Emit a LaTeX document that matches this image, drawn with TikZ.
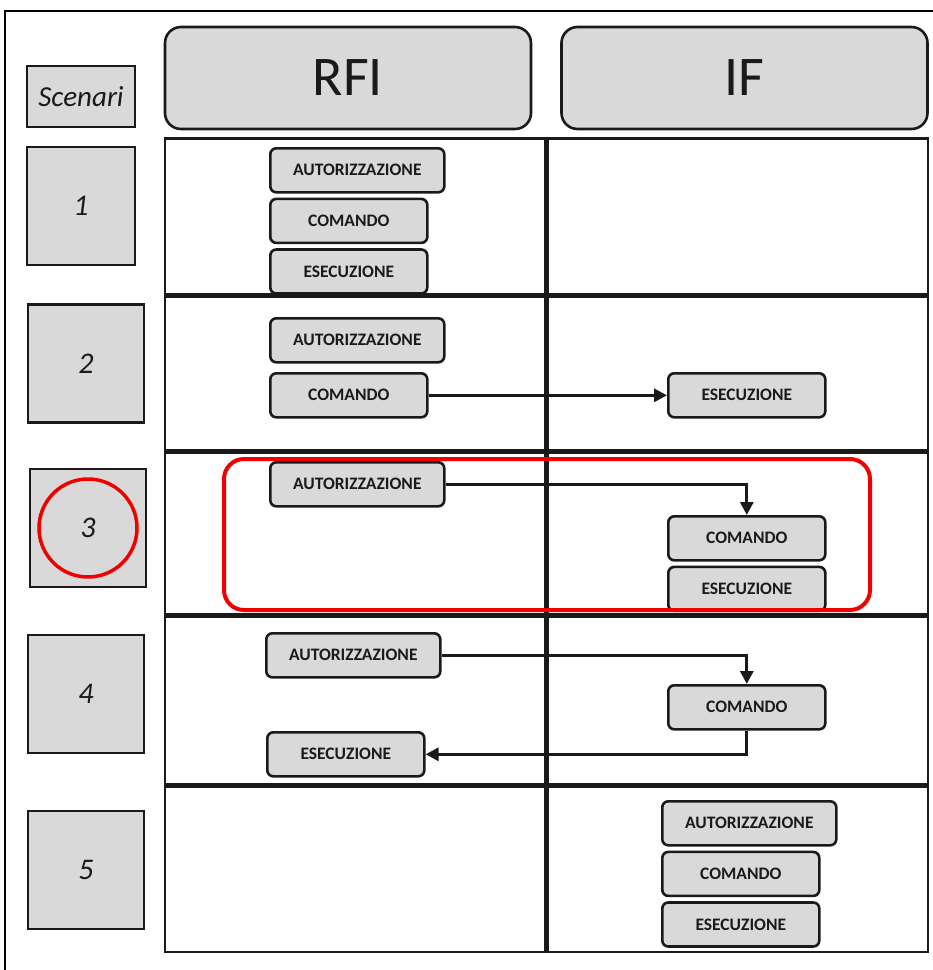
\documentclass[tikz,border=0pt]{standalone}
\usepackage{fontspec}
\setmainfont{Carlito}
\usepackage{tikz}
\usetikzlibrary{arrows.meta,positioning}
\definecolor{boxgray}{HTML}{D9D9D9}
\definecolor{ink}{HTML}{1A1A1A}
\definecolor{mark}{HTML}{F00000}
\tikzset{
  act/.style={draw=ink, line width=2.6pt, rounded corners=6pt, fill=boxgray,
              minimum height=44pt, inner sep=0pt, text=ink,
              font=\bfseries\fontsize{17.5}{17.5}\selectfont},
  wide/.style={act, minimum width=174pt},
  narrow/.style={act, minimum width=157pt},
  head/.style={draw=ink, line width=2.6pt, rounded corners=16pt, fill=boxgray,
               minimum width=366pt, minimum height=102pt, text=ink,
               font=\fontsize{56}{56}\selectfont},
  scen/.style={draw=ink, line width=2.6pt, fill=boxgray, text=ink,
               minimum width=116pt, minimum height=118pt,
               font=\itshape\fontsize{30}{30}\selectfont},
  flow/.style={-{Triangle[length=13pt,width=13pt]}, line width=3pt, draw=ink},
  sep/.style={line width=5pt, draw=ink}
}
\begin{document}
\begin{tikzpicture}[x=1pt,y=-1pt]
  \useasboundingbox (0,0) rectangle (933,970);
  % outer frame (cut at right and bottom)
  \draw[line width=1.2pt] (5,970) -- (5,11) -- (933,11);
  % headers
  \node[scen, minimum width=108pt, minimum height=61pt, font=\itshape\fontsize{29}{29}\selectfont] (scn) at (81,96.5) {Scenari};
  \node[head] (rfi) at (348,78) {RFI};
  \node[head] (if) at (744.5,78) {IF};
  % table grid
  \draw[line width=2pt, draw=ink] (165,138) rectangle (928,952);
  \draw[line width=3pt, draw=ink] (165,138) -- (928,138);
  \foreach \yy in {295,451,615,785}
    \draw[sep] (165,\yy) -- (928,\yy);
  \draw[sep] (546,138) -- (546,952);
  % scenario numbers
  \node[scen, minimum width=108pt] (s1) at (81,206) {1};
  \node[scen] (s2) at (86,363.5) {2};
  \node[scen] (s3) at (88,528) {3};
  \node[scen] (s4) at (86,694) {4};
  \node[scen] (s5) at (86,870) {5};
  % scenario 1
  \node[wide, anchor=north west] (a1) at (269,147) {AUTORIZZAZIONE};
  \node[narrow, below=4pt of a1.south west, anchor=north west] (c1) {COMANDO};
  \node[narrow, below=4pt of c1.south west, anchor=north west] (e1) {ESECUZIONE};
  % scenario 2
  \node[wide, anchor=north west] (a2) at (269,317) {AUTORIZZAZIONE};
  \node[narrow, anchor=north west] (c2) at (269,372) {COMANDO};
  \node[narrow, anchor=north west] (e2) at (667,372) {ESECUZIONE};
  \draw[flow] (c2.east) -- (e2.west);
  % scenario 3
  \node[wide, anchor=north west] (a3) at (269,461) {AUTORIZZAZIONE};
  \node[narrow, anchor=north west] (c3) at (667,515) {COMANDO};
  \node[narrow, below=4pt of c3.south west, anchor=north west] (e3) {ESECUZIONE};
  \draw[flow] (a3.east) -| (c3.north);
  % scenario 4
  \node[wide, anchor=north west] (a4) at (265,632) {AUTORIZZAZIONE};
  \node[narrow, anchor=north west] (c4) at (667,684) {COMANDO};
  \node[narrow, anchor=north west] (e4) at (266,731) {ESECUZIONE};
  \draw[flow] (a4.east) -| (c4.north);
  \draw[flow] (c4.south) |- (e4.east);
  % scenario 5
  \node[wide, anchor=north west] (a5) at (661,800) {AUTORIZZAZIONE};
  \node[narrow, below=4pt of a5.south west, anchor=north west] (c5) {COMANDO};
  \node[narrow, below=4pt of c5.south west, anchor=north west] (e5) {ESECUZIONE};
  % red highlight
  \node[draw=mark, line width=4pt, rounded corners=20pt, minimum width=646pt,
        minimum height=151pt, anchor=north west] (hl) at (222,457) {};
  \node[draw=mark, line width=3.5pt, circle, minimum size=98pt] (hc) at (s3) {};
\end{tikzpicture}
\end{document}
